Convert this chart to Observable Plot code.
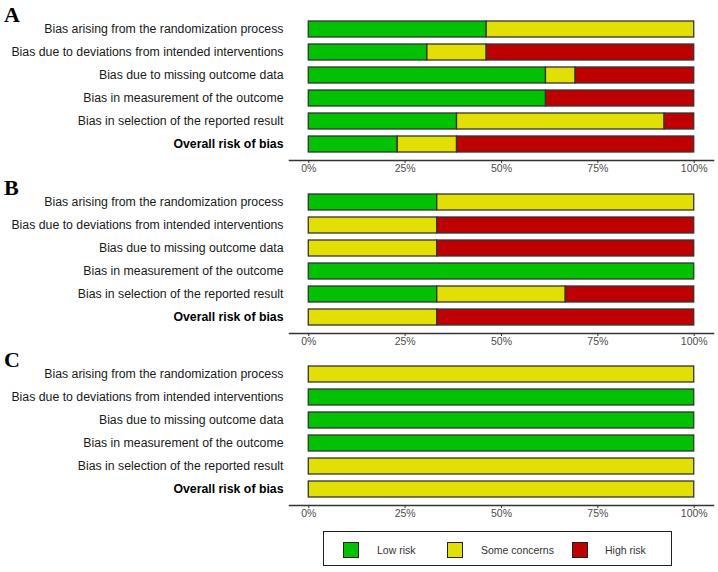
<!DOCTYPE html>
<html><head><meta charset="utf-8">
<script src="https://cdn.jsdelivr.net/npm/d3@7"></script>
<script src="https://cdn.jsdelivr.net/npm/@observablehq/plot@0.6"></script>
<style>
body{margin:0;background:#fff;}
#root{position:relative;width:718px;height:572px;font-family:"Liberation Sans",Arial,sans-serif;overflow:hidden;}
.panel{position:absolute;left:0;}
.letter{position:absolute;left:4px;font-family:"Liberation Serif","Times New Roman",serif;font-weight:bold;font-size:22px;line-height:1;color:#000;}
#legend{position:absolute;left:323px;top:531px;width:349px;height:35px;border:1.5px solid #222;box-sizing:border-box;font-size:10.5px;color:#333;}
.key{position:absolute;top:10px;width:16px;height:16px;border:1.2px solid #222;box-sizing:border-box;}
.klab{position:absolute;top:12px;}
</style>
</head><body><div id="root"></div>
<script>
const domains = [
  "Bias arising from the randomization process",
  "Bias due to deviations from intended interventions",
  "Bias due to missing outcome data",
  "Bias in measurement of the outcome",
  "Bias in selection of the reported result",
  "Overall risk of bias"
];
const judgements = ["Low risk", "Some concerns", "High risk"];
const colors = ["#02C100", "#E1DF03", "#BF0000"];
const panelLabels = ["A", "B", "C"];
const xTicks = [0, 0.25, 0.5, 0.75, 1];

// study counts per domain (A: 13 studies, B: 3 studies, C: 1 study)
const lowA  = [6, 4, 8, 8, 5, 3];
const someA = [7, 2, 1, 0, 7, 2];
const highA = [0, 7, 4, 5, 1, 8];
const lowB  = [1, 0, 0, 3, 1, 0];
const someB = [2, 1, 1, 0, 1, 1];
const highB = [0, 2, 2, 0, 1, 2];
const lowC  = [0, 1, 1, 1, 0, 0];
const someC = [1, 0, 0, 0, 1, 1];
const highC = [0, 0, 0, 0, 0, 0];

const panelData = [[lowA, someA, highA], [lowB, someB, highB], [lowC, someC, highC]];
const panelTops = [0, 172.5, 345];

const root = document.getElementById("root");

panelData.forEach((series, pi) => {
  const rows = [];
  domains.forEach((dom, di) => {
    const total = series.reduce((s, arr) => s + arr[di], 0);
    judgements.forEach((j, ji) => {
      const v = series[ji][di];
      if (v > 0) rows.push({domain: dom, judgement: j, value: v / total});
    });
  });
  const chart = Plot.plot({
    width: 718,
    height: 185,
    marginLeft: 289,
    marginRight: 5,
    marginTop: 13,
    marginBottom: 25,
    style: "background: transparent; overflow: visible; font-family: 'Liberation Sans', Arial, sans-serif;",
    x: {domain: [-0.05, 1.05], axis: null},
    y: {domain: domains, paddingInner: 0.31, paddingOuter: 0.31, axis: null},
    color: {domain: judgements, range: colors},
    marks: [
      Plot.barX(rows, Plot.stackX({x: "value", y: "domain", fill: "judgement", stroke: "#333", strokeWidth: 1.3})),
      Plot.frame({anchor: "bottom", stroke: "#333", strokeWidth: 1.5}),
      Plot.axisX({ticks: xTicks, tickFormat: d3.format(".0%"), tickSize: 3, tickPadding: 1, stroke: "#333", fill: "#4d4d4d", fontSize: 10.5, label: null}),
      Plot.axisY({ticks: domains.slice(0, 5), tickSize: 0, tickPadding: 6, fill: "#1a1a1a", fontSize: 12.3, label: null}),
      Plot.axisY({ticks: domains.slice(5), tickSize: 0, tickPadding: 6, fill: "#000", fontSize: 12.3, fontWeight: "bold", label: null})
    ]
  });
  const wrap = document.createElement("div");
  wrap.className = "panel";
  wrap.style.top = panelTops[pi] + "px";
  wrap.appendChild(chart);
  root.appendChild(wrap);
  const letter = document.createElement("div");
  letter.className = "letter";
  letter.style.top = (panelTops[pi] + 4) + "px";
  letter.textContent = panelLabels[pi];
  root.appendChild(letter);
});

const legend = document.createElement("div");
legend.id = "legend";
const keyX = [19, 123, 248];
const labX = [53, 157, 281];
judgements.forEach((j, i) => {
  const k = document.createElement("div");
  k.className = "key";
  k.style.left = keyX[i] + "px";
  k.style.background = colors[i];
  legend.appendChild(k);
  const l = document.createElement("div");
  l.className = "klab";
  l.style.left = labX[i] + "px";
  l.textContent = j;
  legend.appendChild(l);
});
root.appendChild(legend);
</script>
</body></html>
